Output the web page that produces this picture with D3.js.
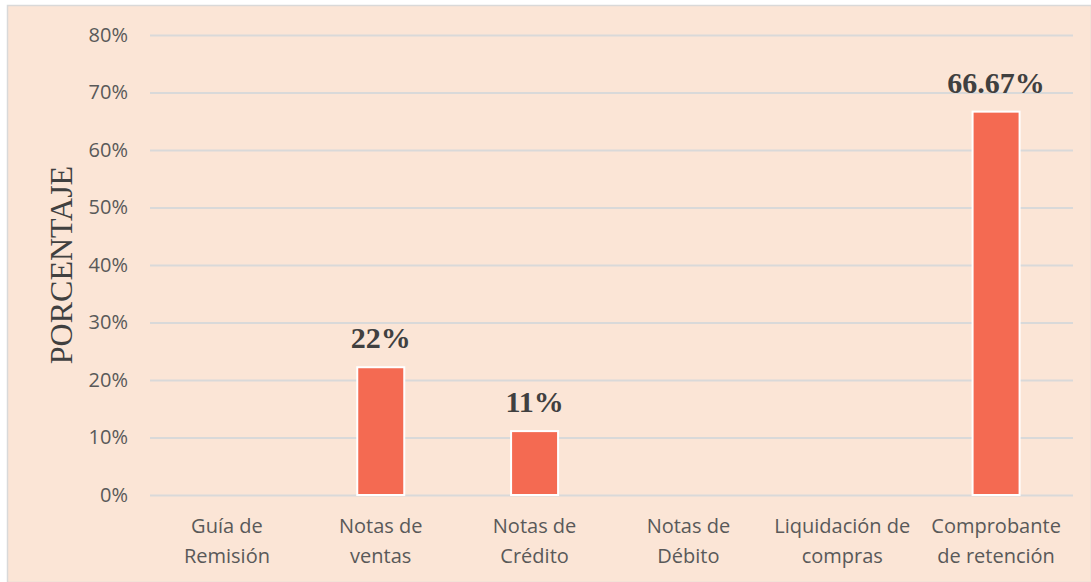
<!DOCTYPE html>
<meta charset="utf-8">
<style>
body { margin: 0; background: #fff; }
.tick text { font: 20px "Open Sans", sans-serif; fill: #595959; }
.cat { font: 20px "Open Sans", sans-serif; fill: #595959; }
.val { font: bold 30px "Liberation Serif", serif; fill: #404040; }
.ylabel { font: 32px "Liberation Serif", serif; fill: #404040; }
</style>
<body>
<script src="https://d3js.org/d3.v7.min.js"></script>
<script>

// data
const categories = ["Guía de|Remisión", "Notas de|ventas", "Notas de|Crédito", "Notas de|Débito", "Liquidación de|compras", "Comprobante|de retención"];
const values = [0, 22.22, 11.11, 0, 0, 66.67];
const valueLabels = ["", "22%", "11%", "", "", "66.67%"];
const yTicks = [0, 10, 20, 30, 40, 50, 60, 70, 80];

const W = 1091, H = 582;
const margin = {top: 35, right: 18, bottom: 87, left: 150};
const width = W - margin.left - margin.right,
    height = H - margin.top - margin.bottom;

const svg = d3.select("body").append("svg")
    .attr("width", W)
    .attr("height", H);

// background + frame
svg.append("rect")
    .attr("x", 7.5).attr("y", 5.5)
    .attr("width", W - 7).attr("height", H - 5)
    .attr("fill", "#FBE5D6")
    .attr("stroke", "#D9D9D9")
    .attr("stroke-width", 1.5);

const g = svg.append("g")
    .attr("transform", `translate(${margin.left},${margin.top})`);

const x = d3.scaleBand().domain(categories).range([0, width]);
const y = d3.scaleLinear().domain([0, 80]).range([height, 0]);

// grid lines
g.append("g")
    .call(d3.axisLeft(y).tickValues(yTicks).tickSize(-width).tickFormat(""))
    .call(a => a.select(".domain").remove())
    .selectAll("line").attr("stroke", "#D9D9D9").attr("stroke-width", 2);

// y tick labels
g.append("g")
    .call(d3.axisLeft(y).tickValues(yTicks).tickSize(0).tickPadding(22).tickFormat(d => d + "%"))
    .call(a => a.select(".domain").remove());

// bars
const barW = 47;
g.selectAll(".bar")
  .data(values)
  .enter().append("rect")
    .attr("class", "bar")
    .attr("x", (d, i) => x(categories[i]) + x.bandwidth() / 2 - barW / 2)
    .attr("y", d => y(d))
    .attr("width", barW)
    .attr("height", d => height - y(d))
    .attr("fill", "#F46A52")
    .attr("stroke", "#fff")
    .attr("stroke-width", 2)
    .style("display", d => d > 0 ? null : "none");

// value labels
g.selectAll(".val")
  .data(values)
  .enter().append("text")
    .attr("class", "val")
    .attr("text-anchor", "middle")
    .attr("x", (d, i) => x(categories[i]) + x.bandwidth() / 2)
    .attr("y", d => y(d) - 19)
    .text((d, i) => valueLabels[i]);

// category labels (two lines)
const cat = g.selectAll(".cat")
  .data(categories)
  .enter().append("text")
    .attr("class", "cat")
    .attr("text-anchor", "middle")
    .attr("x", d => x(d) + x.bandwidth() / 2)
    .attr("y", height + 38);
cat.selectAll("tspan")
  .data(d => d.split("|").map(t => ({t, c: d})))
  .enter().append("tspan")
    .attr("x", d => x(d.c) + x.bandwidth() / 2)
    .attr("dy", (d, i) => i ? 30 : 0)
    .text(d => d.t);

// y axis title
svg.append("text")
    .attr("class", "ylabel")
    .attr("text-anchor", "middle")
    .attr("transform", `translate(72,265) rotate(-90)`)
    .text("PORCENTAJE");

</script>
</body>
